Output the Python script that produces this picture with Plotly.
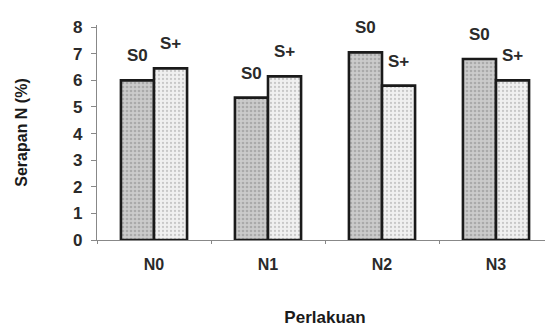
import plotly.graph_objects as go

categories = ["N0", "N1", "N2", "N3"]
s0_values = [6.0, 5.35, 7.05, 6.8]
splus_values = [6.45, 6.15, 5.8, 6.0]
series_names = ["S0", "S+"]
y_ticks = [0, 1, 2, 3, 4, 5, 6, 7, 8]

fig = go.Figure()
fig.add_trace(go.Bar(
    x=categories, y=s0_values, name=series_names[0],
    marker=dict(color="#c4c4c4", line=dict(color="#1a1a1a", width=2.6),
                pattern=dict(shape=".", fgcolor="#8a8a8a", bgcolor="#cbcbcb", size=4, solidity=0.35)),
))
fig.add_trace(go.Bar(
    x=categories, y=splus_values, name=series_names[1],
    marker=dict(color="#eeeeee", line=dict(color="#1a1a1a", width=2.6),
                pattern=dict(shape=".", fgcolor="#a0a0a0", bgcolor="#f0f0f0", size=4, solidity=0.25)),
))

font_fam = "Liberation Sans, Arial, sans-serif"
for vals, name, shift in [(s0_values, series_names[0], -16.5), (splus_values, series_names[1], 16.5)]:
    for c, v in zip(categories, vals):
        fig.add_annotation(x=c, y=v, text=name, showarrow=False, xshift=shift, yshift=13,
                           yanchor="bottom",
                           font=dict(family=font_fam, size=17, color="#2a2a2a", weight="bold"))

# the page body has an 8px margin, so the figure is sized to fit the 553x327 window
fig.update_layout(
    width=545, height=319,
    margin=dict(l=89, r=0, t=17, b=87),
    paper_bgcolor="white", plot_bgcolor="white",
    barmode="group", bargap=0.42, bargroupgap=0,
    showlegend=False,
    font=dict(family=font_fam, color="#1a1a1a"),
)
fig.update_xaxes(
    showline=True, linecolor="#888", linewidth=1.2,
    ticks="outside", tickson="boundaries", ticklen=3, tickcolor="#888",
    tickfont=dict(size=16, color="#2a2a2a", weight="bold"), ticklabelstandoff=10,
    title=dict(text="<b>Perlakuan</b>", font=dict(size=17, color="#1a1a1a"), standoff=40),
    automargin=False,
)
fig.update_yaxes(
    range=[0, 8.08], tickvals=y_ticks, showgrid=False, zeroline=False,
    showline=True, linecolor="#888", linewidth=1.2,
    ticks="outside", ticklen=5, tickcolor="#888",
    tickfont=dict(size=17, color="#2a2a2a", weight="bold"), ticklabelstandoff=5,
    title=dict(text="<b>Serapan N (%)</b>", font=dict(size=16, color="#1a1a1a"), standoff=41),
    automargin=False,
)

fig.write_html("out.html")
